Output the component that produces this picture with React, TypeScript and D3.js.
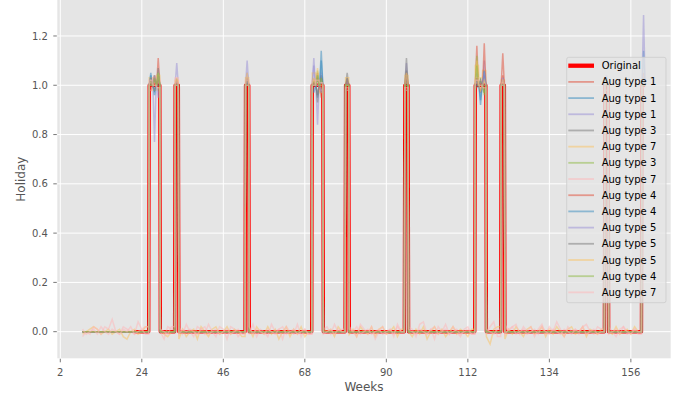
import React from 'react';
import * as d3 from 'd3';

const W = 683;
const H = 401;

// Weeks where the original series is 1 (each holiday spans one full week)
const holidayWeeks = [26, 27, 28, 33, 52, 70, 71, 72, 79, 95, 114, 115, 116, 121, 149, 159];
const originalRange = [22, 159];
const augRange = [8, 159];

const xTicks = [2, 24, 46, 68, 90, 112, 134, 156];
const yTicks = [0, 0.2, 0.4, 0.6, 0.8, 1.0, 1.2];

const augLabels = [
  'Aug type 1', 'Aug type 1', 'Aug type 1', 'Aug type 3', 'Aug type 7', 'Aug type 3', 'Aug type 7',
  'Aug type 4', 'Aug type 4', 'Aug type 5', 'Aug type 5', 'Aug type 5', 'Aug type 4', 'Aug type 7',
];
const augColors = [
  '#E24A33', '#348ABD', '#988ED5', '#777777', '#FBC15E', '#8EBA42', '#FFB5B8',
  '#E24A33', '#348ABD', '#988ED5', '#777777', '#FBC15E', '#8EBA42', '#FFB5B8',
];

// Mid-week values at holidayWeeks (same order) for the non-noise augmentations
const aug1a = [1.00, 1.02, 1.11, 1.02, 1.03, 1.02, 1.05, 0.98, 1.02, 1.05, 1.16, 1.00, 1.04, 1.04, 1.03, 1.05];
const aug1b = [1.05, 0.98, 1.00, 1.00, 1.01, 1.00, 0.95, 1.14, 1.00, 1.02, 1.02, 0.92, 1.05, 1.00, 1.02, 1.14];
const aug1c = [1.03, 0.77, 1.04, 1.09, 1.10, 1.11, 0.84, 1.05, 1.01, 1.09, 1.05, 0.98, 1.10, 1.03, 1.04, 1.285];
const aug3a = [1.02, 1.00, 1.07, 1.00, 1.02, 1.00, 0.93, 1.04, 1.05, 1.11, 1.00, 1.02, 0.97, 1.00, 1.00, 1.00];
const aug3b = [1.00, 1.04, 0.98, 1.00, 1.00, 1.02, 1.06, 0.97, 1.00, 1.02, 1.12, 1.03, 0.96, 1.00, 1.00, 1.02];
const aug4a = [0.98, 1.04, 1.02, 1.00, 1.00, 1.00, 1.03, 0.95, 1.00, 1.03, 1.03, 0.97, 1.17, 1.13, 1.00, 1.00];
const aug4b = [1.04, 0.96, 1.05, 1.00, 1.00, 0.97, 1.04, 1.10, 1.00, 1.00, 1.00, 0.94, 1.06, 1.00, 1.01, 1.03];
const aug5a = [1.00, 1.04, 0.95, 1.02, 1.05, 1.08, 1.00, 0.97, 1.00, 1.04, 1.02, 1.00, 1.05, 1.03, 1.00, 1.02];
const aug5b = [1.03, 0.98, 1.04, 1.00, 1.00, 1.01, 0.96, 1.03, 1.03, 1.06, 0.99, 1.02, 1.00, 1.00, 1.00, 1.00];
const aug5c = [1.02, 1.00, 1.05, 1.03, 1.05, 1.03, 1.07, 1.00, 1.00, 1.05, 1.10, 0.98, 1.02, 1.02, 1.03, 1.00];
const aug4c = [1.00, 1.03, 1.05, 1.00, 1.00, 1.00, 1.04, 1.03, 1.00, 1.00, 1.08, 1.00, 0.97, 1.00, 1.00, 1.00];

// Noise (deviation from the original) for the type 7 augmentations, weeks 8..159
const noiseYellow = [
  -0.01, 0.00, 0.01, 0.02, 0.01, -0.01, 0.00, 0.01, -0.01, 0.00,
  0.01, -0.02, -0.03, 0.00, 0.01, -0.01, 0.00, 0.02, 0.03, -0.02,
  0.04, 0.01, -0.01, -0.02, 0.00, 0.02, -0.03, 0.01, -0.02, 0.00,
  0.01, -0.03, 0.02, 0.00, -0.02, 0.01, 0.02, -0.01, 0.00, 0.02,
  -0.01, 0.01, 0.00, -0.02, 0.03, 0.01, -0.02, 0.02, 0.00, -0.01,
  0.02, -0.01, 0.01, -0.03, 0.00, 0.02, -0.02, 0.01, -0.01, 0.02,
  -0.02, 0.00, 0.05, 0.02, -0.03, 0.01, 0.00, 0.01, -0.02, 0.02,
  0.00, 0.03, -0.01, 0.01, -0.02, 0.02, 0.00, -0.01, 0.02, -0.02,
  0.01, 0.02, -0.01, 0.00, 0.02, -0.02, 0.01, 0.04, 0.00, -0.02,
  0.01, -0.01, 0.02, -0.03, 0.00, 0.02, -0.01, 0.01, -0.02, 0.00,
  0.02, -0.01, 0.01, 0.00, -0.02, 0.01, 0.08, 0.03, 0.06, -0.02,
  -0.05, 0.01, 0.02, 0.02, -0.03, 0.01, -0.01, 0.02, 0.00, -0.02,
  0.01, 0.02, -0.01, 0.00, 0.02, -0.02, 0.01, -0.01, 0.02, 0.00,
  -0.02, 0.01, 0.02, -0.01, 0.00, 0.02, -0.02, 0.01, 0.00, -0.01,
  0.01, 0.02, 0.00, -0.01, 0.02, -0.01, 0.00, 0.01, -0.01, 0.02,
  0.00, 0.01,
];
const noisePink = [
  -0.02, 0.00, -0.01, 0.02, 0.01, -0.01, 0.02, 0.01, 0.05, 0.00,
  -0.01, 0.02, 0.01, 0.00, -0.01, 0.04, 0.01, 0.02, -0.02, 0.03,
  0.02, 0.00, -0.03, 0.02, 0.01, 0.03, 0.02, -0.01, 0.03, 0.00,
  -0.02, 0.02, 0.01, -0.01, 0.03, 0.00, -0.02, 0.02, 0.01, -0.03,
  0.02, 0.01, -0.02, 0.00, 0.02, -0.01, 0.03, -0.02, 0.01, 0.00,
  -0.02, 0.03, 0.00, 0.01, -0.03, 0.02, 0.00, -0.01, 0.03, -0.02,
  0.01, -0.01, 0.02, 0.00, -0.02, 0.01, 0.02, -0.01, 0.03, 0.00,
  0.01, -0.02, 0.02, 0.00, -0.02, 0.03, 0.01, -0.01, 0.02, -0.03,
  0.00, 0.02, -0.01, 0.01, -0.02, 0.03, 0.00, -0.02, 0.02, 0.01,
  -0.02, 0.03, 0.04, -0.01, 0.01, -0.03, 0.02, 0.00, 0.03, -0.01,
  0.02, 0.00, -0.02, 0.01, 0.02, -0.01, 0.03, 0.02, 0.00, -0.01,
  0.02, 0.04, -0.02, 0.01, 0.03, 0.00, 0.02, 0.03, -0.01, 0.02,
  0.00, 0.02, -0.02, 0.01, 0.03, -0.01, 0.02, 0.00, 0.04, 0.01,
  -0.02, 0.02, 0.00, 0.01, -0.01, 0.02, 0.03, 0.00, -0.01, 0.02,
  0.01, -0.02, 0.02, 0.00, -0.02, 0.01, 0.02, -0.01, 0.00, 0.01,
  -0.01, 0.00,
];
const noisePink2 = [
  0.01, -0.01, 0.00, 0.01, -0.01, 0.02, 0.00, -0.01, 0.01, 0.00,
  -0.01, 0.01, 0.00, 0.02, -0.01, 0.00, 0.01, -0.01, 0.02, 0.00,
  -0.01, 0.01, 0.00, -0.01, 0.02, 0.00, -0.01, 0.01, 0.00, 0.01,
  0.00, -0.01, 0.01, 0.02, -0.01, 0.00, 0.01, -0.01, 0.00, 0.01,
  -0.01, 0.00, 0.01, -0.01, 0.00, 0.02, -0.01, 0.01, 0.00, -0.01,
  0.01, 0.00, -0.01, 0.01, 0.02, -0.01, 0.00, 0.01, -0.01, 0.00,
  0.01, -0.01, 0.00, 0.02, 0.01, -0.01, 0.00, 0.01, -0.01, 0.01,
  0.00, -0.01, 0.01, 0.00, 0.02, -0.01, 0.00, 0.01, -0.01, 0.00,
  0.01, -0.01, 0.00, 0.01, -0.01, 0.02, 0.00, -0.01, 0.01, 0.00,
  -0.01, 0.01, 0.00, -0.01, 0.01, 0.02, -0.01, 0.00, 0.01, -0.01,
  0.00, 0.01, -0.01, 0.00, 0.01, -0.01, 0.02, 0.00, -0.01, 0.01,
  0.00, -0.01, 0.01, 0.00, -0.01, 0.01, 0.02, -0.01, 0.00, 0.01,
  -0.01, 0.00, 0.01, -0.01, 0.02, 0.00, -0.01, 0.01, 0.00, -0.01,
  0.01, 0.00, -0.01, 0.01, 0.00, 0.02, -0.01, 0.00, 0.01, -0.01,
  0.00, 0.01, -0.01, 0.00, 0.01, -0.01, 0.02, 0.00, -0.01, 0.01,
  0.00, -0.01,
];

const augPeaks = [aug1a, aug1b, aug1c, aug3a, null, aug3b, null, aug4a, aug4b, aug5a, aug5b, aug5c, aug4c, null];
const augNoise = [null, null, null, null, noiseYellow, null, noisePink, null, null, null, null, null, null, noisePink2];

// within-week positions (days / 7)
const WEEK_END = 6 / 7;
const WEEK_MID = 3 / 7;

type Pt = { w: number; v: number };

function buildOriginal(): Pt[] {
  const pts: Pt[] = [];
  for (let w = originalRange[0]; w <= originalRange[1]; w++) {
    const v = holidayWeeks.includes(w) ? 1 : 0;
    pts.push({ w, v }, { w: w + WEEK_END, v });
  }
  return pts;
}

function buildAug(i: number): Pt[] {
  const pts: Pt[] = [];
  const peaks = augPeaks[i];
  const noise = augNoise[i];
  for (let w = augRange[0]; w <= augRange[1]; w++) {
    const hi = holidayWeeks.indexOf(w);
    if (noise) {
      const n = noise[w - augRange[0]];
      const nextHoliday = holidayWeeks.includes(w + 1);
      if (hi >= 0) pts.push({ w, v: 1 + n }, { w: w + WEEK_END, v: 1 + n });
      else if (nextHoliday) pts.push({ w, v: n }, { w: w + WEEK_END, v: n });
      else pts.push({ w, v: n });
    } else if (hi >= 0) {
      pts.push({ w, v: 1 }, { w: w + WEEK_MID, v: (peaks as number[])[hi] }, { w: w + WEEK_END, v: 1 });
    } else {
      pts.push({ w, v: 0 }, { w: w + WEEK_END, v: 0 });
    }
  }
  return pts;
}

export default function App() {
  const left = 57.3, right = 670.7, top = 0, bottom = 358.3;
  const x = d3.scaleLinear().domain([1.19, 166.75]).range([left, right]);
  const y = d3.scaleLinear().domain([-0.108, 1.346]).range([bottom, top]);
  const line = d3.line<Pt>().x((d) => x(d.w)).y((d) => y(d.v));

  const original = buildOriginal();
  const augs = augLabels.map((_, i) => buildAug(i));

  const font = 'DejaVu Sans, sans-serif';
  const legendX = 566.7, legendY = 57.3, legendW = 99.3, legendH = 245.4;
  const rowH = 16.19;
  const redW = 3.4;
  const augW = 1.5;

  return (
    <svg width={W} height={H} style={{ position: 'absolute', left: 0, top: 0, background: '#fff' }} fontFamily={font}>
      <defs>
        <clipPath id="plotclip">
          <rect x={left} y={top} width={right - left} height={bottom - top} />
        </clipPath>
      </defs>
      <rect x={left} y={top} width={right - left} height={bottom - top} fill="#E5E5E5" />
      {xTicks.map((t) => (
        <line key={'gx' + t} x1={x(t)} x2={x(t)} y1={top} y2={bottom} stroke="#fff" strokeWidth={1} />
      ))}
      {yTicks.map((t) => (
        <line key={'gy' + t} x1={left} x2={right} y1={y(t)} y2={y(t)} stroke="#fff" strokeWidth={1} />
      ))}
      <g clipPath="url(#plotclip)">
        <path d={line(original) || ''} fill="none" stroke="red" strokeWidth={redW} strokeLinejoin="round" />
        {augs.map((pts, i) => (
          <path key={'a' + i} d={line(pts) || ''} fill="none" stroke={augColors[i]} strokeOpacity={0.5} strokeWidth={augW} />
        ))}
      </g>
      {/* y ticks */}
      {yTicks.map((t) => (
        <g key={'ty' + t}>
          <line x1={left - 4} x2={left - 0.5} y1={y(t)} y2={y(t)} stroke="#555555" strokeWidth={0.8} />
          <text x={left - 9.5} y={y(t)} dy="0.36em" textAnchor="end" fontSize={10} fill="#555555">
            {t.toFixed(1)}
          </text>
        </g>
      ))}
      {/* x ticks */}
      {xTicks.map((t) => (
        <g key={'tx' + t}>
          <line x1={x(t)} x2={x(t)} y1={bottom + 0.5} y2={bottom + 4} stroke="#555555" strokeWidth={0.8} />
          <text x={x(t)} y={376} textAnchor="middle" fontSize={10} fill="#555555">
            {t}
          </text>
        </g>
      ))}
      <text x={(left + right) / 2} y={391} textAnchor="middle" fontSize={12} fill="#555555">
        Weeks
      </text>
      <text transform={`translate(24.5, ${(top + bottom) / 2}) rotate(-90)`} textAnchor="middle" fontSize={12} fill="#555555">
        Holiday
      </text>
      {/* legend */}
      <rect x={legendX} y={legendY} width={legendW} height={legendH} rx={2} ry={2} fill="#E5E5E5" fillOpacity={0.8} stroke="#CCCCCC" strokeOpacity={0.8} strokeWidth={1} />
      <g>
        <line x1={568.3} x2={594} y1={legendY + 8.4} y2={legendY + 8.4} stroke="red" strokeWidth={4.3} />
        <text x={601.7} y={legendY + 8.4} dy="0.36em" fontSize={10} fill="#000">Original</text>
        {augLabels.map((lab, i) => {
          const yy = legendY + 8.4 + (i + 1) * rowH;
          return (
            <g key={'lg' + i}>
              <line x1={568.3} x2={594} y1={yy} y2={yy} stroke={augColors[i]} strokeOpacity={0.5} strokeWidth={augW + 0.3} />
              <text x={601.7} y={yy} dy="0.36em" fontSize={10} fill="#000">{lab}</text>
            </g>
          );
        })}
      </g>
    </svg>
  );
}
